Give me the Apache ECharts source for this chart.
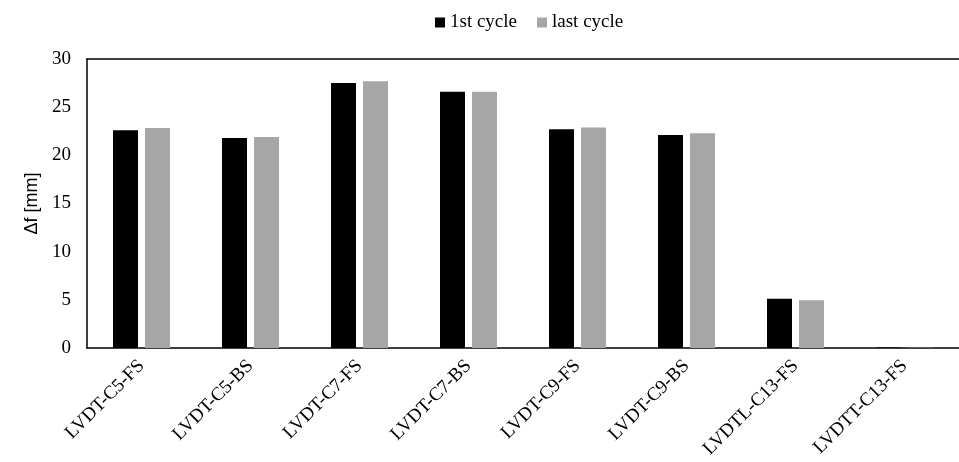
<!DOCTYPE html>
<html><head><meta charset="utf-8">
<script src="https://cdn.jsdelivr.net/npm/echarts@6/dist/echarts.min.js"></script>
<style>html,body{margin:0;padding:0;background:#fff}#c{width:959px;height:462px}</style>
</head><body><div id="c"></div>
<script>
const categories = ['LVDT-C5-FS','LVDT-C5-BS','LVDT-C7-FS','LVDT-C7-BS','LVDT-C9-FS','LVDT-C9-BS','LVDTL-C13-FS','LVDTT-C13-FS'];
const firstCycle = [22.6, 21.8, 27.5, 26.6, 22.7, 22.1, 5.1, 0.05];
const lastCycle = [22.85, 21.9, 27.7, 26.6, 22.9, 22.3, 4.95, 0.03];
const seriesNames = ['1st cycle', 'last cycle'];
const yTicks = {min: 0, max: 30, interval: 5};

const serif = '"Liberation Serif", "Times New Roman", serif';
const chart = echarts.init(document.getElementById('c'), null, {renderer: 'canvas'});
chart.setOption({
  animation: false,
  backgroundColor: '#fff',
  legend: {
    top: 8, left: 430, itemWidth: 10, itemHeight: 10, itemGap: 20,
    icon: 'rect',
    textStyle: {fontFamily: serif, fontSize: 19, color: '#000'},
    data: seriesNames
  },
  grid: {left: 87, right: 0, top: 59, bottom: 114, containLabel: false},
  xAxis: [{
    type: 'category', data: categories,
    axisLine: {lineStyle: {color: '#000', width: 1.5}},
    axisTick: {show: false},
    axisLabel: {rotate: 45, interval: 0, margin: 15, fontFamily: serif, fontSize: 19, color: '#000'}
  }, {
    type: 'category', data: categories, position: 'top',
    axisLine: {lineStyle: {color: '#000', width: 1.5}},
    axisTick: {show: false}, axisLabel: {show: false}
  }],
  yAxis: {
    type: 'value', min: yTicks.min, max: yTicks.max, interval: yTicks.interval,
    name: 'Δf [mm]', nameLocation: 'middle', nameGap: 40,
    nameTextStyle: {fontFamily: '"Liberation Sans", Arial, sans-serif', fontSize: 18, color: '#000'},
    axisLine: {show: true, lineStyle: {color: '#000', width: 1.5}},
    axisTick: {show: false},
    splitLine: {show: false},
    axisLabel: {fontFamily: serif, fontSize: 19, color: '#000', margin: 16, padding: [6, 0, 0, 0]}
  },
  series: [
    {name: seriesNames[0], type: 'bar', data: firstCycle, barWidth: 25, barGap: '28%', itemStyle: {color: '#000000'}},
    {name: seriesNames[1], type: 'bar', data: lastCycle, barWidth: 25, itemStyle: {color: '#a6a6a6'}}
  ]
});
</script></body></html>
